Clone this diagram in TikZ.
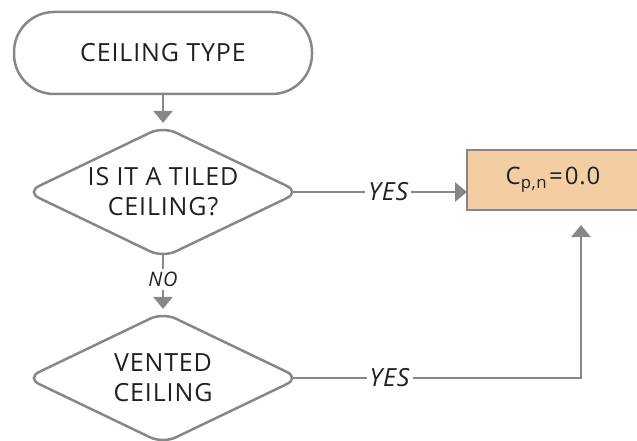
\documentclass[tikz,border=0pt]{standalone}
\usepackage{fontspec}
\setmainfont{Open Sans}[LetterSpace=3.5]
\usetikzlibrary{shapes.geometric,positioning,arrows.meta}

\definecolor{flowgray}{HTML}{85878A}
\definecolor{resultfill}{HTML}{F3CEA5}
\definecolor{inkgray}{HTML}{231F20}

\tikzset{
  terminal/.style={draw=flowgray, line width=2.5pt, outer sep=0pt, rounded corners=40pt,
    minimum width=298pt, minimum height=82pt, text=inkgray, font=\fontsize{25}{30}\selectfont},
  decision/.style={diamond, draw=flowgray, line width=2.5pt, outer sep=0pt, rounded corners=14pt,
    aspect=2.08, minimum width=273pt, minimum height=131pt, inner sep=0pt, align=center,
    text=inkgray, font=\fontsize{25}{30}\selectfont},
  result/.style={draw=flowgray, fill=resultfill, line width=2.5pt, outer sep=0pt,
    minimum width=172pt, minimum height=60pt, text=inkgray, font=\fontsize{24}{30}\selectfont},
  flow/.style={draw=flowgray, line width=2.5pt, -{Triangle[width=19pt,length=12pt]}},
  answer/.style={fill=white, inner sep=3pt, text=inkgray, font=\fontsize{25}{28}\selectfont\itshape},
}

\begin{document}
\begin{tikzpicture}[x=1pt, y=-1pt]
  \useasboundingbox (0,0) rectangle (637,441);

  \node[terminal] (type) at (163,53) {CEILING TYPE};
    \node[decision] (tiled) [below=32.5pt of type] {IS IT A TILED\\CEILING?};
    \node[decision] (vented) [below=55pt of tiled] {VENTED\\CEILING};
  \node[result] (cpn) at (553,180) {C\textsubscript{p,n}\kern2pt=\kern2pt0.0};

  \draw[flow, shorten >=3.6pt] (type.south) -- (tiled.north);
  \draw[flow, shorten <=-7.4pt] (tiled.east) -- node[answer, pos=0.53] {YES} (tiled.east -| cpn.west);
  \draw[flow, shorten <=-3.6pt, shorten >=3.6pt] (tiled.south) --
    node[answer, pos=0.4, font=\fontsize{20}{24}\selectfont\itshape] {NO} (vented.north);
  \draw[flow, shorten <=-7.4pt, shorten >=15pt] (vented.east) -|
    node[answer, pos=0.16] {YES} ([xshift=28pt]cpn.south);

\end{tikzpicture}
\end{document}
